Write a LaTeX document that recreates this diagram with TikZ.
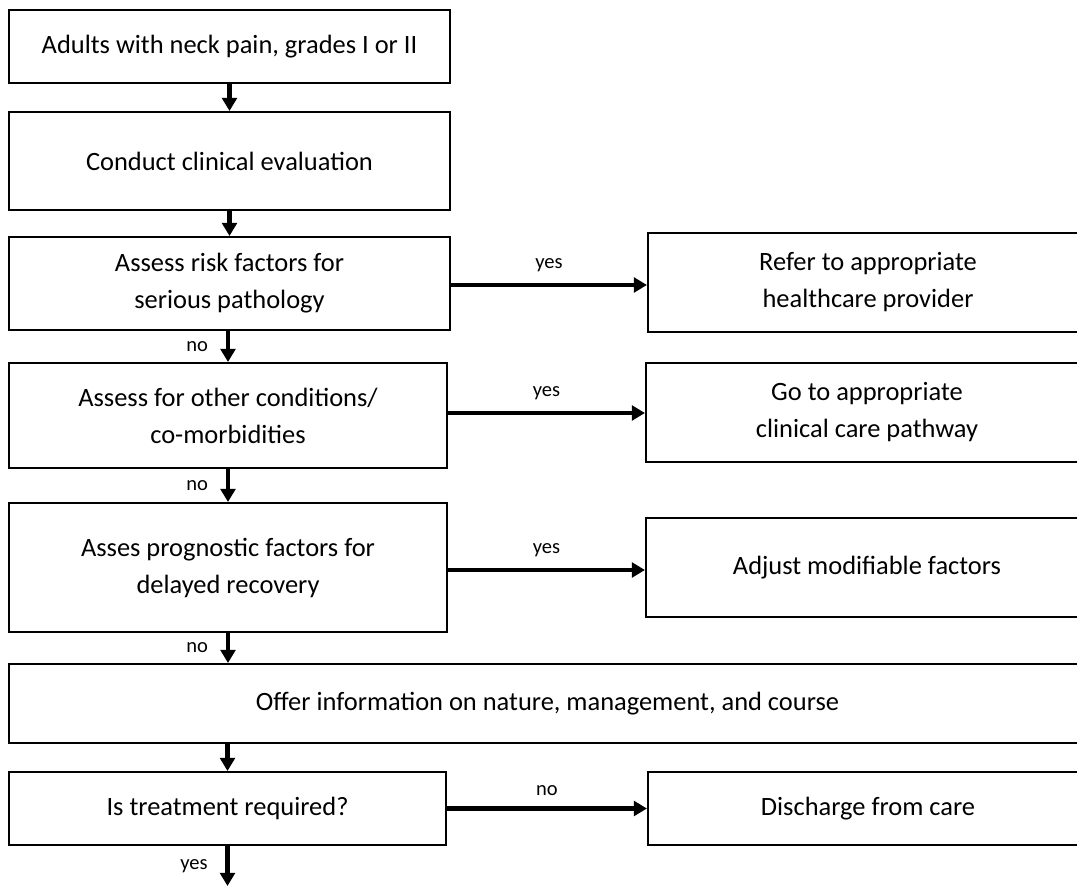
\documentclass[tikz,border=0pt]{standalone}
\usepackage{fontspec}
\setmainfont{Carlito}
\usetikzlibrary{arrows.meta}
\tikzset{
  stepbox/.style={draw,line width=1.4pt,inner sep=0pt,align=center,
    font=\fontsize{18.8}{26.3}\selectfont},
  flow/.style={line width=3.3pt,-{Triangle[length=0.33cm,width=0.37cm]}},
  lbl/.style={font=\fontsize{14.6}{17}\selectfont,inner sep=0pt}
}

\begin{document}
\begin{tikzpicture}[x=0.025cm,y=-0.025cm]
  \useasboundingbox (0,0) rectangle (1077,886);
  \clip (0,0) rectangle (1077,886);
  % main column
  \node[stepbox,minimum width=11.025cm,minimum height=1.825cm] (adults) at (229.5,46.5) {Adults with neck pain, grades I or II};
  \node[stepbox,minimum width=11.025cm,minimum height=2.45cm] (evaluate) at (229.5,161) {Conduct clinical evaluation};
  \node[stepbox,minimum width=11.025cm,minimum height=2.325cm] (risk) at (229.5,283.5) {Assess risk factors for\\serious pathology};
  \node[stepbox,minimum width=10.95cm,minimum height=2.625cm] (other) at (228,415.5) {Assess for other conditions/\\co-morbidities};
  \node[stepbox,minimum width=10.95cm,minimum height=3.225cm] (prognosis) at (228,567.5) {Asses prognostic factors for\\delayed recovery};
  \node[stepbox,minimum width=26.925cm,minimum height=1.975cm] (inform) at (547.5,703.5) {Offer information on nature, management, and course};
  \node[stepbox,minimum width=10.925cm,minimum height=1.825cm] (treat) at (227.5,808.5) {Is treatment required?};
  % right column
  \node[stepbox,minimum width=11cm,minimum height=2.475cm] (refer) at (868,282.5) {Refer to appropriate\\healthcare provider};
  \node[stepbox,minimum width=11.05cm,minimum height=2.475cm] (pathway) at (867,412.5) {Go to appropriate\\clinical care pathway};
  \node[stepbox,minimum width=11.05cm,minimum height=2.475cm] (adjust) at (867,567.5) {Adjust modifiable factors};
  \node[stepbox,minimum width=11cm,minimum height=1.825cm] (discharge) at (868,808.5) {Discharge from care};
  \coordinate (out) at (227.5,886);

  % downward flow
  \draw[flow] (adults.south) -- (adults.south |- evaluate.north);
  \draw[flow] (evaluate.south) -- (evaluate.south |- risk.north);
  \draw[flow] (risk.south -| other.north) -- (other.north)
    node[lbl,midway,left=0.44cm] {no};
  \draw[flow] (other.south) -- (other.south |- prognosis.north)
    node[lbl,midway,left=0.44cm] {no};
  \draw[flow] (prognosis.south) -- (prognosis.south |- inform.north)
    node[lbl,midway,left=0.44cm] {no};
  \draw[flow] (treat.north |- inform.south) -- (treat.north);
  \draw[flow] (treat.south) -- (out)
    node[lbl,midway,left=0.44cm] {yes};

  % side branches
  \draw[flow] (risk.east |- 0,285) -- (refer.west |- 0,285)
    node[lbl,midway,above=0.27cm] {yes};
  \draw[flow] (other.east |- 0,413) -- (pathway.west |- 0,413)
    node[lbl,midway,above=0.27cm] {yes};
  \draw[flow] (prognosis.east |- 0,570) -- (adjust.west |- 0,570)
    node[lbl,midway,above=0.27cm] {yes};
  \draw[flow] (treat.east) -- (discharge.west)
    node[lbl,midway,above=0.27cm] {no};
\end{tikzpicture}
\end{document}
